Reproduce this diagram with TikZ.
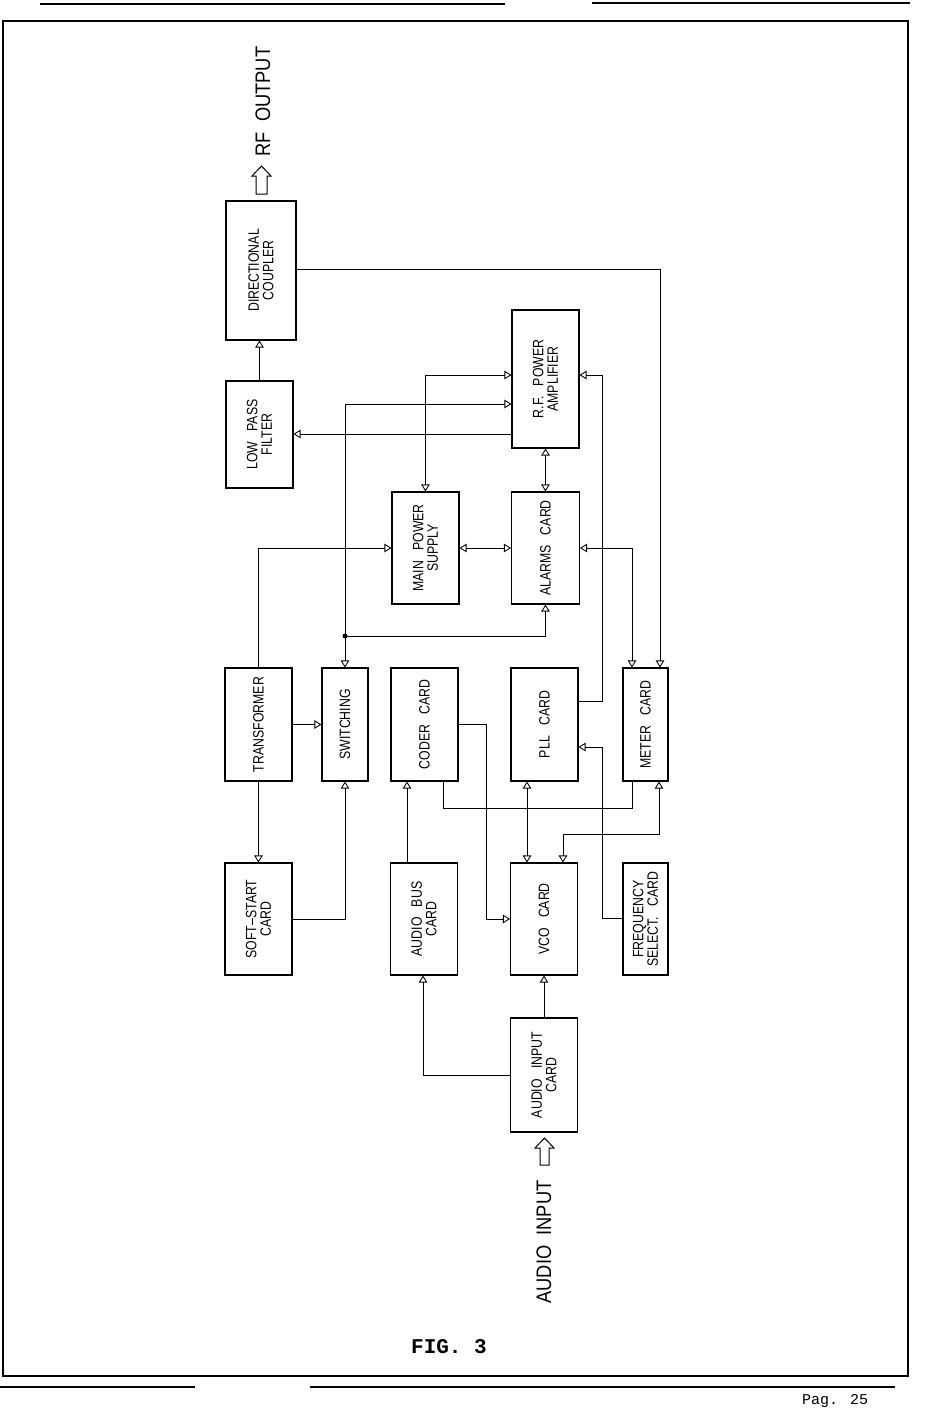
\documentclass[tikz,border=0pt]{standalone}
\usepackage{fontspec}
\usetikzlibrary{arrows.meta}
\newfontfamily\boxfont[FakeStretch=0.82,WordSpace=3]{Liberation Sans}
\newfontfamily\bigfont[FakeStretch=0.87,WordSpace=2]{Liberation Sans}
\newfontfamily\figfont{Liberation Mono}
\begin{document}
\begin{tikzpicture}[x=1pt,y=-1pt,
  box/.style={draw, line width=1.05pt, inner sep=0pt, minimum width=67pt, minimum height=113pt},
  lbl/.style={rotate=90, align=center, inner sep=0pt, font=\boxfont\fontsize{15}{14.5}\selectfont},
  bigtxt/.style={rotate=90, inner sep=0pt, font=\bigfont\fontsize{21}{21}\selectfont},
  conn/.style={line width=0.85pt},
  ot/.tip={Triangle[open,length=7pt,width=8.5pt]},
  arr/.style={conn,-ot},
  darr/.style={conn,ot-ot},
  bigarrow/.style={line width=1pt, line join=miter},
]
\useasboundingbox (0,0) rectangle (926,1411);

% page decorations
\draw[line width=1.8pt] (3,21) rectangle (908,1376);
\draw[line width=1.5pt] (40,4) -- (505,4);
\draw[line width=1.5pt] (592,3) -- (910,3);
\draw[line width=1.2pt] (0,1387) -- (195,1387);
\draw[line width=2.2pt] (310,1387) -- (895,1387);

% blocks
\node[box, minimum width=70pt, minimum height=139pt, label={[lbl]center:{DIRECTIONAL\\COUPLER}}] (DC) at (261,270.5) {};
\node[box, minimum height=107pt, label={[lbl]center:{LOW PASS\\FILTER}}] (LPF) at (259.5,434.5) {};
\node[box, minimum height=138pt, label={[lbl]center:{R.F. POWER\\AMPLIFIER}}] (RFPA) at (545.5,379) {};
\node[box, minimum height=112pt, label={[lbl]center:{MAIN POWER\\SUPPLY}}] (MPS) at (425.5,548) {};
\node[box, minimum width=68pt, minimum height=112pt, label={[lbl]center:{ALARMS CARD}}] (AL) at (545.5,548) {};

\node[box, label={[lbl]center:{TRANSFORMER}}] (TR) at (258.5,724.5) {};
\node[box, minimum width=46pt, label={[lbl]center:{SWITCHING}}] (SW) at (345,724.5) {};
\node[box, label={[lbl]center:{CODER CARD}}] (CO) at (424.5,724.5) {};
\node[box, label={[lbl]center:{PLL CARD}}] (PLL) at (544.5,724.5) {};
\node[box, minimum width=45pt, label={[lbl]center:{METER CARD}}] (MET) at (645.5,724.5) {};

\node[box, minimum height=112pt, label={[lbl]center:{SOFT–START\\CARD}}] (SS) at (258.5,919) {};
\node[box, minimum height=112pt, label={[lbl]center:{AUDIO BUS\\CARD}}] (AB) at (424,919) {};
\node[box, minimum height=112pt, label={[lbl]center:{VCO CARD}}] (VCO) at (544,919) {};
\node[box, minimum width=45pt, minimum height=112pt, label={[lbl]center:{FREQUENCY\\SELECT. CARD}}] (FS) at (645.5,919) {};

\node[box, minimum height=114pt, label={[lbl]center:{AUDIO INPUT\\CARD}}] (AIC) at (544,1075) {};

% connectors
\draw[arr] (LPF.north) -- (LPF.north |- DC.south);
\draw[arr] (RFPA.west |- 0,434) -- (LPF.east |- 0,434);
\draw[darr] (MPS.north) |- (RFPA.west |- 0,375);
\coordinate (J) at (SW.north |- 0,636);
\fill (J) circle (2.5pt);
\draw[arr] (J) |- (RFPA.west |- 0,404);
\draw[arr] (J) -- (SW.north);
\draw[arr] (J) -| (AL.south);
\draw[darr] (RFPA.south) -- (AL.north);
\draw[arr] (TR.north) |- (MPS.west);
\draw[darr] (MPS.east) -- (AL.west);
\draw[darr] (AL.east) -| (MET.north -| 632,0);
\draw[arr] (DC.east |- 0,269) -| (MET.north -| 660,0);
\draw[arr] (PLL.east |- 0,701) -| (602,375) -- (RFPA.east |- 0,375);
\draw[arr] (TR.east) -- (SW.west);
\draw[arr] (TR.south) -- (SS.north);
\draw[arr] (SS.east) -| (SW.south);
\draw[arr] (AB.north -| 407,0) -- (CO.south -| 407,0);
\draw[arr] (CO.east) -| (486,919) -- (VCO.west);
\draw[conn] (CO.south -| 443,0) |- (632,808) -- (MET.south -| 632,0);
\draw[darr] (VCO.north -| 563,0) |- (659,834) -- (MET.south -| 659,0);
\draw[darr] (PLL.south -| 527,0) -- (VCO.north -| 527,0);
\draw[arr] (FS.west |- 0,918) -| (602,747) -- (PLL.east |- 0,747);
\draw[arr] (AIC.north) -- (VCO.south);
\draw[arr] (AIC.west) -| (AB.south -| 423,0);

% input / output block arrows
\draw[bigarrow] (256,194) -- (256,176) -- (252,176) -- (261.5,166) -- (271,176) -- (267,176) -- (267,194) -- cycle;
\draw[bigarrow] (540,1165) -- (540,1148) -- (535,1148) -- (544.5,1138) -- (554,1148) -- (549,1148) -- (549,1165) -- cycle;

% texts
\node[bigtxt] (RFO) at (263,101.5) {RF OUTPUT};
\node[bigtxt] (AIN) at (544,1242) {AUDIO INPUT};
\node[inner sep=0pt, font=\figfont\bfseries\fontsize{21}{21}\selectfont] (FIG) at (449,1347) {FIG. 3};
\node[inner sep=0pt, font=\figfont\fontsize{15}{15}\selectfont] (PAG) at (835,1401) {Pag. 25};
\end{tikzpicture}
\end{document}
